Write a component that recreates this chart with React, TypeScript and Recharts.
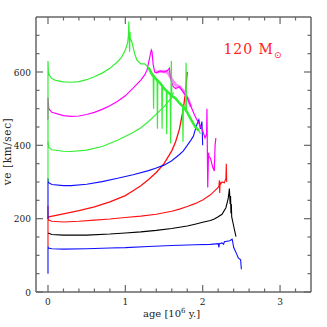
import React from 'react';
import { LineChart, Line, XAxis, YAxis, ReferenceDot } from 'recharts';

// ---- data (age in 10^6 y, ve in km/sec) ----
const greenTopAge = [0, 0, 0.005, 0.02, 0.05, 0.1, 0.2, 0.3, 0.4, 0.5, 0.6, 0.7, 0.8, 0.9, 0.95, 1.0, 1.03, 1.04, 1.045, 1.05, 1.055, 1.06, 1.065, 1.08, 1.1, 1.12, 1.15, 1.2, 1.25, 1.3, 1.33, 1.35, 1.36, 1.365, 1.37, 1.4, 1.41, 1.415, 1.42, 1.45, 1.47, 1.475, 1.48, 1.5, 1.53, 1.535, 1.54, 1.56, 1.58, 1.585, 1.59, 1.595, 1.6, 1.65, 1.7, 1.74, 1.745, 1.75, 1.78, 1.785, 1.79, 1.8, 1.85, 1.9, 1.95, 1.97];
const greenTopVe = [400, 630, 600, 590, 582, 577, 573, 572, 574, 579, 587, 597, 610, 628, 640, 660, 680, 700, 738, 700, 655, 710, 690, 685, 668, 650, 632, 622, 622, 612, 600, 592, 590, 500, 590, 580, 578, 445, 578, 570, 562, 445, 560, 555, 548, 430, 547, 542, 540, 405, 545, 630, 535, 530, 515, 505, 410, 505, 495, 625, 495, 490, 470, 450, 440, 432];

const greenBandAge = [1.3, 1.35, 1.4, 1.45, 1.5, 1.55, 1.6, 1.65, 1.7, 1.75, 1.8, 1.85, 1.9, 1.95];
const greenBandVe = [612, 592, 580, 570, 555, 545, 535, 528, 515, 505, 490, 470, 452, 440];

const magentaAge = [0, 0, 0.01, 0.05, 0.2, 0.3, 0.4, 0.5, 0.6, 0.7, 0.8, 0.9, 1.0, 1.1, 1.2, 1.25, 1.28, 1.3, 1.32, 1.335, 1.345, 1.36, 1.38, 1.4, 1.45, 1.5, 1.55, 1.57, 1.58, 1.6, 1.62, 1.65, 1.7, 1.75, 1.8, 1.85, 1.9, 1.95, 2.0, 2.03, 2.05, 2.055, 2.065, 2.075, 2.08, 2.1, 2.13, 2.15, 2.16, 2.17];
const magentaVe = [470, 530, 500, 490, 481, 479, 480, 484, 490, 498, 508, 520, 535, 556, 578, 592, 605, 625, 645, 660, 655, 620, 600, 598, 603, 600, 605, 610, 590, 570, 560, 555, 560, 545, 530, 505, 480, 460, 440, 420, 430, 500, 285, 380, 370, 365, 340, 330, 400, 420];

const magentaBandAge = [1.4, 1.5, 1.55, 1.6, 1.65, 1.7, 1.75, 1.8, 1.85];
const magentaBandVe = [600, 602, 598, 580, 565, 560, 548, 530, 505];

const greenLowAge = [0, 0, 0.01, 0.05, 0.2, 0.3, 0.5, 0.7, 0.9, 1.1, 1.2, 1.3, 1.4, 1.5, 1.55, 1.6, 1.62];
const greenLowVe = [300, 410, 395, 388, 384, 383, 387, 397, 414, 435, 448, 465, 485, 505, 518, 530, 545];

const blueUpAge = [0, 0, 0.01, 0.05, 0.2, 0.3, 0.5, 0.7, 0.9, 1.1, 1.3, 1.4, 1.5, 1.6, 1.7, 1.75, 1.8, 1.85, 1.88, 1.9, 1.93, 1.95, 1.97, 1.99, 2.0];
const blueUpVe = [200, 310, 298, 293, 290, 290, 294, 301, 310, 320, 331, 338, 346, 358, 375, 385, 400, 415, 425, 440, 460, 470, 445, 465, 400];

const redSteepAge = [0, 0.01, 0.2, 0.4, 0.6, 0.8, 1.0, 1.1, 1.2, 1.3, 1.4, 1.5, 1.6, 1.65, 1.7, 1.75, 1.78, 1.8];
const redSteepVe = [200, 205, 213, 222, 232, 246, 263, 276, 290, 307, 326, 350, 385, 410, 445, 500, 550, 600];

const redLowAge = [0, 0, 0, 0.01, 0.05, 0.2, 0.4, 0.6, 0.8, 1.0, 1.2, 1.4, 1.6, 1.7, 1.8, 1.9, 2.0, 2.1, 2.15, 2.2, 2.21, 2.215, 2.22, 2.225, 2.235, 2.25, 2.28, 2.3, 2.305, 2.31];
const redLowVe = [125, 235, 200, 196, 193, 191, 193, 196, 199, 203, 207, 212, 220, 226, 233, 241, 251, 265, 275, 285, 290, 305, 270, 300, 295, 300, 298, 310, 350, 300];

const blackAge = [0, 0.01, 0.05, 0.2, 0.5, 0.8, 1.0, 1.2, 1.4, 1.6, 1.8, 1.9, 2.0, 2.1, 2.15, 2.2, 2.25, 2.3, 2.33, 2.345, 2.355, 2.36, 2.365, 2.37, 2.375, 2.38, 2.4, 2.43];
const blackVe = [160, 160, 157, 155, 155, 158, 161, 164, 168, 173, 180, 185, 190, 195, 199, 205, 212, 230, 255, 282, 240, 262, 215, 240, 205, 200, 180, 151];

const blueLowAge = [0, 0, 0.005, 0.05, 0.2, 0.5, 0.8, 1.0, 1.3, 1.6, 1.9, 2.1, 2.2, 2.21, 2.215, 2.25, 2.27, 2.28, 2.35, 2.38, 2.385, 2.4, 2.43, 2.46, 2.49, 2.5];
const blueLowVe = [50, 125, 120, 118, 117, 118, 120, 121, 124, 127, 129, 130, 132, 122, 132, 134, 130, 137, 140, 144, 140, 122, 108, 93, 88, 62];

const xTicks = [0, 0.2, 0.4, 0.6, 0.8, 1, 1.2, 1.4, 1.6, 1.8, 2, 2.2, 2.4, 2.6, 2.8, 3, 3.2];
const yTicks = [0, 50, 100, 150, 200, 250, 300, 350, 400, 450, 500, 550, 600, 650, 700];
const yLabelTicks = [0, 200, 400, 600];

const zip = (a: number[], v: number[]) => a.map((age, i) => ({ age, ve: v[i] }));

const FONT = '"DejaVu Serif", "Liberation Serif", serif';
const AXIS = '#666';

const isMajorX = (v: number) => Math.abs(v - Math.round(v)) < 1e-6;
const isMajorY = (v: number) => yLabelTicks.includes(v);

const makeXTick = (top: boolean) => (props: any) => {
  const { x, y, payload } = props;
  const v = payload.value;
  const major = isMajorX(v);
  const len = major ? 7 : 3.5;
  const dir = top ? 1 : -1;
  return (
    <g>
      <line x1={x} y1={y} x2={x} y2={y + dir * len} stroke={AXIS} strokeWidth={1.2} />
      {!top && major ? (
        <text x={x} y={y + 13} textAnchor="middle" fontSize={9} fontFamily={FONT} fill="#222">
          {v}
        </text>
      ) : null}
    </g>
  );
};

const makeYTick = (right: boolean) => (props: any) => {
  const { x, y, payload } = props;
  const v = payload.value;
  const major = isMajorY(v);
  const len = major ? 7 : 3.5;
  const dir = right ? -1 : 1;
  return (
    <g>
      <line x1={x} y1={y} x2={x + dir * len} y2={y} stroke={AXIS} strokeWidth={1.2} />
      {!right && major ? (
        <text x={x - 5} y={y + 3.5} textAnchor="end" fontSize={9} fontFamily={FONT} fill="#222">
          {v}
        </text>
      ) : null}
    </g>
  );
};

const XLabel = (props: any) => {
  const vb = props.viewBox;
  return (
    <text x={vb.x + vb.width / 2 - 2} y={vb.y + 25} textAnchor="middle" fontSize={10} fontFamily={FONT} fill="#222">
      age [10<tspan dy={-4} fontSize={7}>6</tspan><tspan dy={4}> y.]</tspan>
    </text>
  );
};

const YLabel = (props: any) => {
  const vb = props.viewBox;
  const cx = vb.x + 8;
  const cy = vb.y + vb.height / 2 - 3;
  return (
    <text x={cx} y={cy} transform={`rotate(-90 ${cx} ${cy})`} textAnchor="middle" dominantBaseline="middle" fontSize={10.5} letterSpacing={0.6} fontFamily={FONT} fill="#222">
      ve [km/sec]
    </text>
  );
};

const Annotation = (props: any) => {
  const vb = props.viewBox;
  return (
    <text x={vb.x} y={vb.y} textAnchor="middle" fontSize={14} letterSpacing={1} fontFamily={FONT} fill="#ff2020">
      120 M<tspan dy={4} fontSize={9} fontFamily='"DejaVu Sans", sans-serif'>⊙</tspan>
    </text>
  );
};

const series = [
  { key: 'blueLow', data: zip(blueLowAge, blueLowVe), color: '#1010ff', w: 1.1 },
  { key: 'black', data: zip(blackAge, blackVe), color: '#000000', w: 1.1 },
  { key: 'redLow', data: zip(redLowAge, redLowVe), color: '#ff1010', w: 1.1 },
  { key: 'redSteep', data: zip(redSteepAge, redSteepVe), color: '#ff1010', w: 1.3 },
  { key: 'blueUp', data: zip(blueUpAge, blueUpVe), color: '#1010ff', w: 1.1 },
  { key: 'greenLow', data: zip(greenLowAge, greenLowVe), color: '#33ee33', w: 1.1 },
  { key: 'magentaBand', data: zip(magentaBandAge, magentaBandVe), color: '#ff88ff', w: 3 },
  { key: 'magenta', data: zip(magentaAge, magentaVe), color: '#ff00ff', w: 1.2 },
  { key: 'greenBand', data: zip(greenBandAge, greenBandVe), color: '#33ee33', w: 2.5 },
  { key: 'greenTop', data: zip(greenTopAge, greenTopVe), color: '#33ee33', w: 1.2 },
];

export default function App() {
  return (
    <div style={{ position: 'absolute', left: 0, top: 0, width: 327, height: 327, background: '#fff' }}>
      <LineChart width={327} height={327} margin={{ top: 0, right: 0, bottom: 0, left: 0 }}>
        <XAxis
          type="number"
          dataKey="age"
          domain={[-0.155, 3.4]}
          ticks={xTicks}
          interval={0}
          allowDataOverflow
          height={35}
          tickSize={0}
          tickMargin={0}
          tickLine={false}
          axisLine={{ stroke: AXIS, strokeWidth: 1.5 }}
          tick={makeXTick(false)}
          label={<XLabel />}
        />
        <XAxis
          xAxisId="top"
          orientation="top"
          type="number"
          dataKey="age"
          domain={[-0.155, 3.4]}
          ticks={xTicks}
          interval={0}
          allowDataOverflow
          height={17}
          tickSize={0}
          tickMargin={0}
          tickLine={false}
          axisLine={{ stroke: AXIS, strokeWidth: 1.5 }}
          tick={makeXTick(true)}
        />
        <YAxis
          type="number"
          domain={[0, 750]}
          ticks={yTicks}
          interval={0}
          allowDataOverflow
          width={36}
          tickSize={0}
          tickMargin={0}
          tickLine={false}
          axisLine={{ stroke: AXIS, strokeWidth: 1.5 }}
          tick={makeYTick(false)}
          label={<YLabel />}
        />
        <YAxis
          yAxisId="right"
          orientation="right"
          type="number"
          domain={[0, 750]}
          ticks={yTicks}
          interval={0}
          allowDataOverflow
          width={16}
          tickSize={0}
          tickMargin={0}
          tickLine={false}
          axisLine={{ stroke: AXIS, strokeWidth: 1.5 }}
          tick={makeYTick(true)}
        />
        {series.map((s) => (
          <Line
            key={s.key}
            data={s.data}
            dataKey="ve"
            type="linear"
            stroke={s.color}
            strokeWidth={s.w}
            dot={false}
            activeDot={false}
            isAnimationActive={false}
          />
        ))}
        <ReferenceDot x={2.65} y={648} r={0} ifOverflow="visible" label={<Annotation />} />
      </LineChart>
    </div>
  );
}
